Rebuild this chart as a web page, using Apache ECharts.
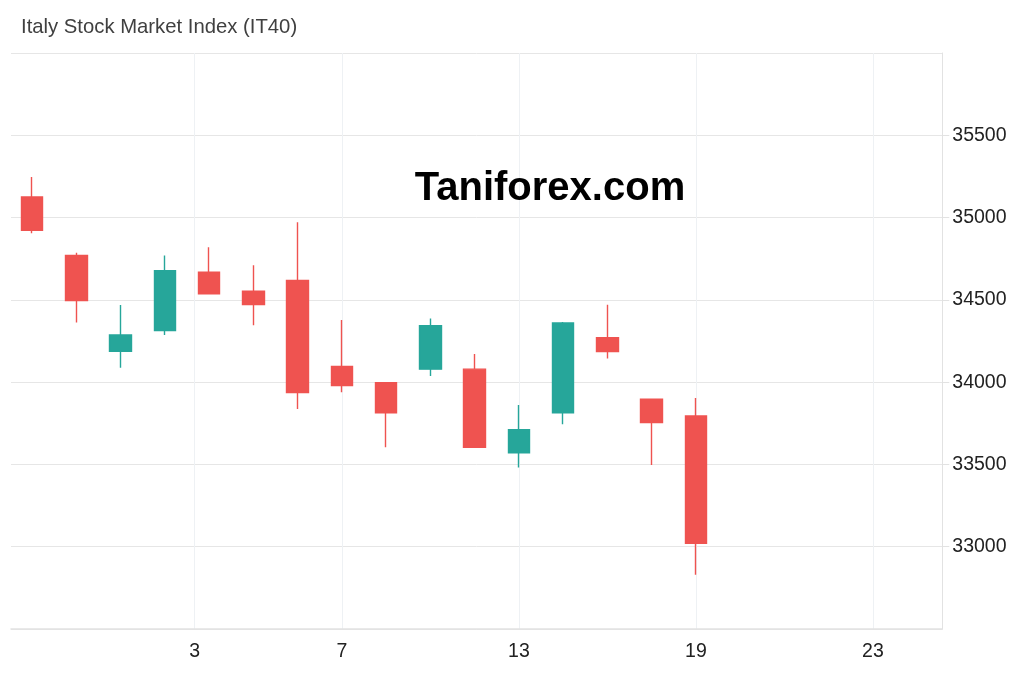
<!DOCTYPE html>
<html>
<head>
<meta charset="utf-8">
<script src="https://cdn.jsdelivr.net/npm/echarts@6/dist/echarts.min.js"></script>
<style>
  html, body { margin: 0; padding: 0; background: #ffffff; }
  #chart { width: 1024px; height: 677px; }
</style>
</head>
<body>
<div id="chart"></div>
<script>
// Candle positions (trading-session index) and OHLC values
const candleX = [0, 1, 2, 3, 4, 5, 6, 7, 8, 9, 10, 11, 12, 13, 14, 15];
const opens  = [35125, 34770, 34187, 34313, 34668, 34552, 34618, 34095, 33996, 34079, 34079, 33570, 33813, 34270, 33896, 33794];
const closes = [34923, 34496, 34287, 34677, 34537, 34471, 33937, 33979, 33813, 34343, 33604, 33711, 34360, 34186, 33754, 33020];
const lows   = [34904, 34363, 34087, 34287, 34537, 34345, 33837, 33939, 33604, 34038, 33604, 33482, 33744, 34144, 33496, 32829];
const highs  = [35246, 34787, 34469, 34770, 34819, 34711, 34971, 34378, 33996, 34386, 34171, 33861, 34366, 34471, 33896, 33904];

// X-axis tick labels (day of month) and where they fall on the session scale
const xTickPositions = [3.67, 7, 11, 15, 19];
const xTickLabels = ['3', '7', '13', '19', '23'];

const titleText = 'Italy Stock Market Index (IT40)';
const watermarkText = 'Taniforex.com';

const source = candleX.map((x, i) => [x, opens[i], closes[i], lows[i], highs[i]]);

const FONT = 'Arial, "Liberation Sans", Helvetica, sans-serif';
const chart = echarts.init(document.getElementById('chart'), null, { renderer: 'canvas' });

chart.setOption({
  animation: false,
  backgroundColor: '#ffffff',
  title: {
    text: titleText,
    left: 21,
    top: 17,
    padding: 0,
    textStyle: { fontFamily: FONT, fontSize: 20.3, fontWeight: 'normal', color: '#404040' }
  },
  graphic: [{
    type: 'text',
    x: 550,
    y: 189,
    z: 100,
    style: {
      text: watermarkText,
      fill: '#000000',
      font: 'bold 40px ' + FONT,
      textAlign: 'center',
      textVerticalAlign: 'middle'
    }
  }],
  grid: { left: 11, right: 81.7, top: 53, bottom: 48, containLabel: false },
  dataset: { source: source },
  xAxis: {
    type: 'value',
    min: -0.479,
    max: 20.567,
    axisLine: { show: true, onZero: false, lineStyle: { color: '#e2e2e2', width: 1.5 } },
    axisTick: { show: false, customValues: xTickPositions },
    axisLabel: {
      customValues: xTickPositions,
      margin: 13,
      fontFamily: FONT,
      fontSize: 19.5,
      color: '#222222',
      formatter: function (v) {
        for (let i = 0; i < xTickPositions.length; i++) {
          if (Math.abs(xTickPositions[i] - v) < 1e-6) return xTickLabels[i];
        }
        return '';
      }
    },
    splitLine: { show: true, lineStyle: { color: '#eef1f4', width: 1 } }
  },
  yAxis: {
    type: 'value',
    position: 'right',
    min: 32500,
    max: 36000,
    interval: 500,
    axisLine: { show: true, onZero: false, lineStyle: { color: '#e2e2e2', width: 1 } },
    axisTick: { show: true, length: 7, lineStyle: { color: '#e2e2e2' } },
    axisLabel: {
      showMinLabel: false,
      showMaxLabel: false,
      margin: 10,
      padding: [4, 0, 0, 0],
      fontFamily: FONT,
      fontSize: 19.5,
      color: '#222222',
      formatter: function (v) { return String(v); }
    },
    splitLine: { show: true, lineStyle: { color: '#e6e6e6', width: 1 } }
  },
  series: [{
    type: 'candlestick',
    encode: { x: 0, y: [1, 2, 3, 4] },
    barWidth: 22,
    itemStyle: {
      color: '#26a69a',
      color0: '#ef5350',
      borderColor: '#26a69a',
      borderColor0: '#ef5350',
      borderWidth: 1.4
    }
  }]
});
</script>
</body>
</html>
